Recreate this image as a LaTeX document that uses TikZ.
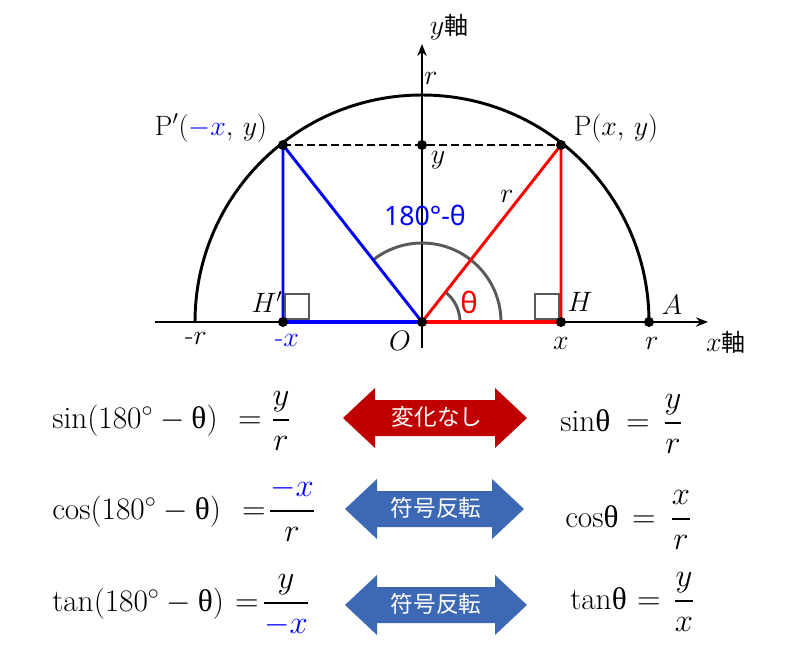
\RequirePackage{fix-cm}
\documentclass[tikz,border=0pt]{standalone}
\usepackage{fontspec}
\usepackage{amsmath}
\newfontfamily\jp{Noto Sans CJK JP}
\newfontfamily\nsans{Noto Sans}
\newfontfamily\lser{Liberation Serif}
\usetikzlibrary{arrows.meta}
\definecolor{arrred}{RGB}{192,0,0}
\definecolor{arrblue}{RGB}{61,104,180}
\definecolor{angg}{RGB}{89,89,89}
\newcommand\uth{\mbox{\lser θ}}
\newcommand\dblarr[4]{%
  \fill[#4] (#1,#3) -- (#1+32,#3-30) -- (#1+32,#3-18) -- (#2-32,#3-18) -- (#2-32,#3-30)
   -- (#2,#3) -- (#2-32,#3+30) -- (#2-32,#3+18) -- (#1+32,#3+18) -- (#1+32,#3+30) -- cycle;}
\tikzset{
  axis/.style={line width=1.5pt,-{Stealth[length=9pt,width=7pt]}},
  lbl/.style={font=\fontsize{21}{23}\selectfont, inner sep=0pt},
  dot/.style={circle,fill=black,inner sep=0pt,minimum size=7.5pt},
  rsq/.style={draw=angg,line width=2.2pt},
  frm/.style={font=\fontsize{24.5}{28}\selectfont, anchor=base, inner sep=0pt},
  frmw/.style={frm, anchor=base west, font=\fontsize{23.5}{28}\selectfont},
  arrtxt/.style={font=\jp\fontsize{17}{19}\selectfont, text=white, inner sep=0pt}
}
\begin{document}
\begin{tikzpicture}[x=0.75pt,y=-0.75pt]
\useasboundingbox (0,0) rectangle (800,650);
% coordinates
\coordinate (O) at (422,322);
\coordinate (P) at (561,145);
\coordinate (Pp) at (283,145);
\coordinate (H) at (561,322);
\coordinate (Hp) at (283,322);
\coordinate (A) at (649,322);
\coordinate (Y) at (422,145);
\coordinate (xs) at (155,322);
\coordinate (xe) at (708,322);
\coordinate (ys) at (422,348);
\coordinate (ye) at (422,44);
% axes
\draw[axis] (xs) -- (xe);
\draw[axis] (ys) -- (ye);
% circle
\draw[line width=2.2pt] (O) ++(227,0) arc[start angle=0,end angle=-180,radius=227];
% angle arcs
\draw[angg,line width=2.2pt] (O) ++(79,0) arc[start angle=0,end angle=-128.2,radius=79];
\draw[angg,line width=2.2pt] (O) ++(38,0) arc[start angle=0,end angle=-51.8,radius=38];
% triangles
\draw[red,line width=2.2pt] (O) -- (P) -- (H);
\draw[red,line width=3pt] (O) -- (H);
\draw[blue,line width=2.2pt] (O) -- (Pp) -- (Hp);
\draw[blue,line width=3pt] (O) -- (Hp);
% right angle squares
\draw[rsq] (535,294) rectangle (559,319);
\draw[rsq] (285,294) rectangle (309,319);
% dashed
\draw[line width=2pt,dash pattern=on 6pt off 3pt] (Pp) -- (P);
% dots
\foreach \p in {O,P,Pp,H,Hp,A,Y} \node[dot] at (\p) {};
% labels
\node[lbl] (lyax) at (449,27) {$y$\jp\fontsize{18}{20}\selectfont 軸};
\node[lbl] (lrt) at (431,78) {$r$};
\node[lbl] (lPp) at (211,128) {$\mathrm{P}'(\textcolor{blue}{-x},\,y)$};
\node[lbl] (lP) at (616,128) {$\mathrm{P}(x,\,y)$};
\node[lbl] (ly) at (438,160) {$y$};
\node[lbl] (lr) at (507,196) {$r$};
\node[lbl,font=\nsans\fontsize{20}{22}\selectfont,text=blue] (lang) at (425,215) {180°-θ};
\node[lbl,font=\nsans\fontsize{22}{24}\selectfont,text=red] (lth) at (469,302) {θ};
\node[lbl] (lHp) at (267,302) {$H'$};
\node[lbl] (lH) at (580,302) {$H$};
\node[lbl] (lA) at (672,305) {$A$};
\node[lbl] (lmr) at (196,338) {-$r$};
\node[lbl,text=blue] (lmx) at (287,340) {-$x$};
\node[lbl] (lO) at (400,341) {$O$};
\node[lbl] (lx) at (561,343) {$x$};
\node[lbl] (lr2) at (652,343) {$r$};
\node[lbl] (lxax) at (726,342) {$x$\jp\fontsize{18}{20}\selectfont 軸};
% formulas left
\node[frmw] (f1l) at (52,428) {$\mathrm{sin}(180^\circ-\uth)$};
\node[frm] (f1e) at (250,428) {$=$};
\node[frm] (f1f) at (281,428) {$\dfrac{y}{r}$};
\node[frmw] (f2l) at (52,519) {$\mathrm{cos}(180^\circ-\uth)$};
\node[frm] (f2e) at (254,519) {$=$};
\node[frm] (f2f) at (292,519) {$\dfrac{\textcolor{blue}{-x}}{r}$};
\node[frmw] (f3l) at (52,611) {$\mathrm{tan}(180^\circ-\uth)$};
\node[frm] (f3e) at (247,611) {$=$};
\node[frm] (f3f) at (286,611) {$\dfrac{y}{\textcolor{blue}{-x}}$};
% formulas right
\node[frmw] (g1l) at (560,431) {$\mathrm{sin}\uth$};
\node[frm] (g1e) at (638,431) {$=$};
\node[frm] (g1f) at (673,431) {$\dfrac{y}{r}$};
\node[frmw] (g2l) at (565,527) {$\mathrm{cos}\uth$};
\node[frm] (g2e) at (644,527) {$=$};
\node[frm] (g2f) at (681,527) {$\dfrac{x}{r}$};
\node[frmw] (g3l) at (570,609) {$\mathrm{tan}\uth$};
\node[frm] (g3e) at (649,609) {$=$};
\node[frm] (g3f) at (684,609) {$\dfrac{y}{x}$};
% double arrows
\dblarr{343}{527}{418}{arrred}
\dblarr{345}{524}{509}{arrblue}
\dblarr{345}{527}{605}{arrblue}
\node[arrtxt] (t1) at (437,417) {変化なし};
\node[arrtxt] (t2) at (436,508) {符号反転};
\node[arrtxt] (t3) at (436,604) {符号反転};
\end{tikzpicture}
\end{document}
